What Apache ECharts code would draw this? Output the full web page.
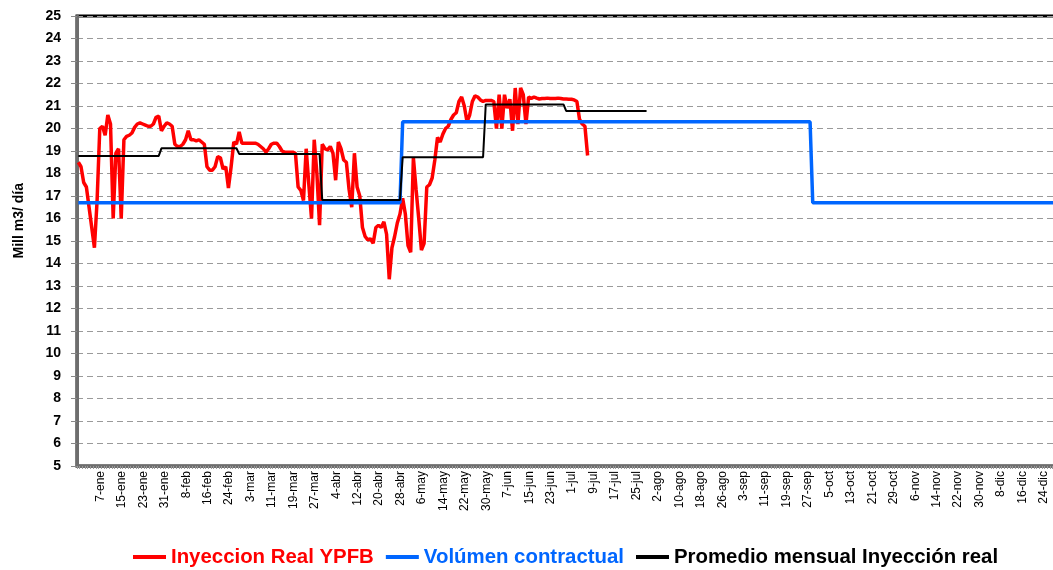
<!DOCTYPE html>
<html>
<head>
<meta charset="utf-8">
<script src="https://cdn.jsdelivr.net/npm/echarts@6/dist/echarts.min.js"></script>
<style>
html,body{margin:0;padding:0;background:#fff;}
#chart{width:1053px;height:570px;}
</style>
</head>
<body>
<div id="chart"></div>
<script>
// Month abbreviations and day counts (leap year)
const monthNames = ['ene','feb','mar','abr','may','jun','jul','ago','sep','oct','nov','dic'];
const monthDays = [31,29,31,30,31,30,31,31,30,31,30,31];

// Daily injection (Mill m3/día), 1-ene .. 9-jul
const inyeccionReal = [
  18.5,18.3,17.6,17.4,16.5,15.6,14.7,16.8,20.0,20.1,
  19.7,20.6,20.2,16.0,18.9,19.1,16.0,19.5,19.65,19.7,
  19.8,20.05,20.2,20.25,20.2,20.15,20.1,20.1,20.2,20.5,
  20.55,19.9,20.1,20.25,20.2,20.1,19.3,19.2,19.2,19.3,
  19.5,19.9,19.5,19.5,19.45,19.5,19.4,19.3,18.3,18.15,
  18.15,18.3,18.75,18.7,18.2,18.3,17.35,18.3,19.4,19.3,
  19.85,19.35,19.35,19.35,19.35,19.35,19.35,19.3,19.2,19.1,
  18.95,19.1,19.3,19.35,19.35,19.2,19.0,18.95,18.95,18.95,
  18.95,18.9,17.4,17.25,16.8,19.1,17.5,16.0,19.5,18.0,
  15.7,19.3,19.1,19.05,19.2,18.9,17.7,19.4,19.1,18.6,
  18.5,17.3,16.5,18.9,17.4,17.0,15.6,15.2,15.05,15.1,
  14.9,15.6,15.7,15.6,15.85,15.3,13.3,14.7,15.2,15.8,
  16.2,16.9,16.2,14.8,14.5,18.7,17.3,16.0,14.6,14.9,
  17.4,17.5,17.8,18.6,19.6,19.4,19.75,20.0,20.1,20.4,
  20.6,20.7,21.2,21.4,21.0,20.3,20.6,21.2,21.45,21.4,
  21.27,21.2,21.25,21.25,21.25,21.2,20.0,21.5,20.0,21.5,
  20.9,21.3,19.9,21.8,20.2,21.8,21.5,20.2,21.4,21.34,
  21.4,21.35,21.31,21.33,21.33,21.35,21.33,21.33,21.33,21.35,
  21.33,21.31,21.31,21.3,21.3,21.27,21.2,20.4,20.2,20.1,
  18.8
];

// Contractual volume per month
const volumenContractualMensual = [16.7,16.7,16.7,16.7,20.3,20.3,20.3,20.3,20.3,16.7,16.7,16.7];

// Monthly average of real injection (ene..jul)
const promedioMensual = [18.78,19.12,18.87,16.82,18.72,21.07,20.78];

// Build daily categories / step series from the monthly arrays
const categories = [];
const contractual = [];
const promedio = [];
monthDays.forEach((nd, m) => {
  for (let d = 1; d <= nd; d++) {
    categories.push(d + '-' + monthNames[m]);
    contractual.push(volumenContractualMensual[m]);
    promedio.push(m < promedioMensual.length ? promedioMensual[m] : null);
  }
});

const chart = echarts.init(document.getElementById('chart'), null, {renderer:'canvas'});
const FONT = '"Liberation Sans", Arial, sans-serif';

chart.setOption({
  animation: false,
  backgroundColor: '#ffffff',
  grid: {
    left: 77, right: -5, top: 16, bottom: 104,
    outerBoundsMode: 'none',
    containLabel: false,
    show: true, borderColor: '#000000', borderWidth: 3
  },
  legend: {
    left: 128, top: 542,
    itemWidth: 33, itemHeight: 4, itemGap: 12,
    icon: 'rect',
    textStyle: {fontFamily: FONT, fontWeight: 'bold', fontSize: 20.4},
    data: [
      {name: 'Inyeccion Real YPFB', textStyle: {color: '#ff0000'}},
      {name: 'Volúmen contractual', textStyle: {color: '#0066ff'}},
      {name: 'Promedio mensual Inyección real', textStyle: {color: '#000000'}}
    ]
  },
  graphic: [{
    type: 'text',
    left: 12, top: 183,
    rotation: Math.PI / 2,
    style: {
      text: 'Mill m3/ día',
      fontFamily: FONT, fontWeight: 'bold', fontSize: 14, fill: '#000'
    }
  }],
  xAxis: {
    type: 'category',
    data: categories,
    boundaryGap: true,
    axisLine: {show: true, lineStyle: {color: '#6e6e6e', width: 3}},
    axisTick: {show: true, interval: 0, length: 3, lineStyle: {color: '#9a9a9a', width: 1}},
    axisLabel: {
      interval: (i) => i >= 6 && (i - 6) % 8 === 0,
      rotate: 90,
      margin: 5,
      showMinLabel: true,
      showMaxLabel: true,
      formatter: (v) => '{s| }\n{t|' + v + '}',
      rich: {
        s: {fontFamily: FONT, fontSize: 12, lineHeight: 12, color: '#000'},
        t: {fontFamily: FONT, fontSize: 12, lineHeight: 5, color: '#000'}
      },
      fontFamily: FONT, fontSize: 12, color: '#000'
    },
    splitLine: {show: false}
  },
  yAxis: {
    type: 'value',
    min: 5, max: 25, interval: 1,
    axisLine: {show: true, lineStyle: {color: '#6e6e6e', width: 3}},
    axisTick: {show: true, length: 6, lineStyle: {color: '#888'}},
    axisLabel: {margin: 16, fontFamily: FONT, fontWeight: 'bold', fontSize: 14, color: '#000'},
    splitLine: {show: true, lineStyle: {color: '#9a9a9a', width: 1, type: [6, 4]}}
  },
  series: [
    {
      name: 'Inyeccion Real YPFB', type: 'line', data: inyeccionReal,
      showSymbol: false, symbol: 'none', z: 2,
      itemStyle: {color: '#ff0000'},
      lineStyle: {color: '#ff0000', width: 3.5}
    },
    {
      name: 'Volúmen contractual', type: 'line', data: contractual,
      showSymbol: false, symbol: 'none', z: 3,
      itemStyle: {color: '#0066ff'},
      lineStyle: {color: '#0066ff', width: 3.5}
    },
    {
      name: 'Promedio mensual Inyección real', type: 'line', data: promedio,
      showSymbol: false, symbol: 'none', z: 4,
      itemStyle: {color: '#000000'},
      lineStyle: {color: '#000000', width: 2}
    }
  ]
});
</script>
</body>
</html>
